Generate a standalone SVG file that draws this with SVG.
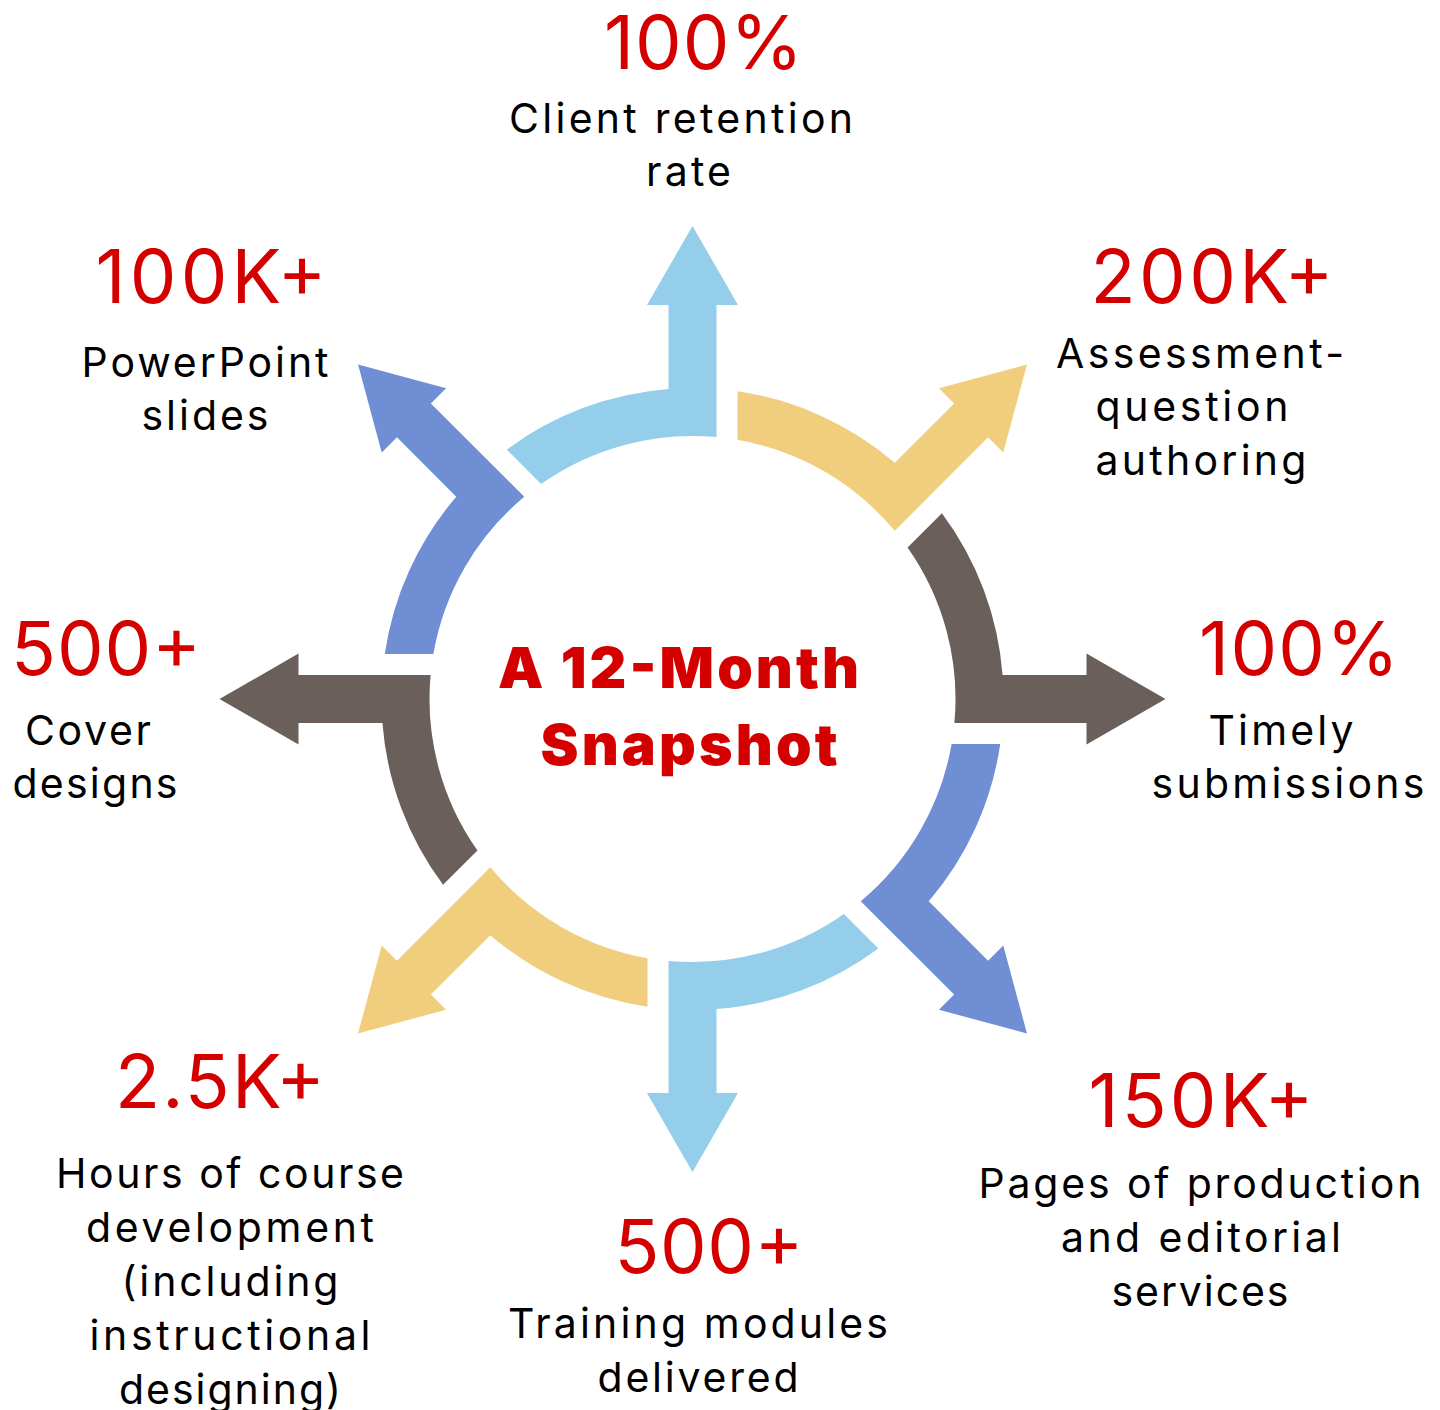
<svg xmlns="http://www.w3.org/2000/svg" xmlns:xlink="http://www.w3.org/1999/xlink" width="1440" height="1410" viewBox="0 0 1440 1410">
  <style>
    .num { font-family: "Inter", "Open Sans", sans-serif; font-size: 74px; font-weight: 400; fill: #D40000; text-anchor: middle; }
    .lbl { font-family: "Inter", "Open Sans", sans-serif; font-size: 41px; font-weight: 400; fill: #000000; text-anchor: middle; }
    .title { font-family: "Inter", "Open Sans", sans-serif; font-size: 57px; font-weight: 900; fill: #D40000; text-anchor: middle; }
    .lightblue { fill: #95CEEA; }
    .yellow { fill: #F1CE7D; }
    .brown { fill: #6A5F5A; }
    .blue { fill: #6F8ED3; }
  </style>
  <defs>
    <path id="piece" d="M -185.78 -249.42 A 311 311 0 0 1 -24 -310.07 L -24 -394 L -45.5 -394 L 0 -473 L 45.5 -394 L 24 -394 L 24 -261.9 A 263 263 0 0 0 -151.41 -215.05 Z"/>
  </defs>
  <rect x="0" y="0" width="1440" height="1410" fill="#FFFFFF"/>

  <g id="connectors"></g>

  <g id="node-client-retention">
    <use xlink:href="#piece" class="lightblue" transform="translate(692.5 699) rotate(0)"/>
    <text class="num" x="703.5" y="69" textLength="199" lengthAdjust="spacing">100%</text>
    <text class="lbl" x="681" y="133" textLength="344" lengthAdjust="spacing">Client retention</text>
    <text class="lbl" x="688.5" y="186" textLength="85" lengthAdjust="spacing">rate</text>
  </g>

  <g id="node-assessment">
    <use xlink:href="#piece" class="yellow" transform="translate(692.5 699) rotate(45)"/>
    <text class="num" x="1212" y="303" textLength="243" lengthAdjust="spacing">200K+</text>
    <text class="lbl" x="1200" y="368" textLength="288" lengthAdjust="spacing">Assessment-</text>
    <text class="lbl" x="1192" y="421" textLength="193" lengthAdjust="spacing">question</text>
    <text class="lbl" x="1201" y="475" textLength="211" lengthAdjust="spacing">authoring</text>
  </g>

  <g id="node-timely">
    <use xlink:href="#piece" class="brown" transform="translate(692.5 699) rotate(90)"/>
    <text class="num" x="1299" y="675" textLength="200" lengthAdjust="spacing">100%</text>
    <text class="lbl" x="1281" y="745" textLength="145" lengthAdjust="spacing">Timely</text>
    <text class="lbl" x="1288" y="798" textLength="273" lengthAdjust="spacing">submissions</text>
  </g>

  <g id="node-pages">
    <use xlink:href="#piece" class="blue" transform="translate(692.5 699) rotate(135)"/>
    <text class="num" x="1201" y="1127" textLength="225" lengthAdjust="spacing">150K+</text>
    <text class="lbl" x="1200" y="1198" textLength="443" lengthAdjust="spacing">Pages of production</text>
    <text class="lbl" x="1201" y="1252" textLength="280" lengthAdjust="spacing">and editorial</text>
    <text class="lbl" x="1200" y="1306" textLength="177" lengthAdjust="spacing">services</text>
  </g>

  <g id="node-training">
    <use xlink:href="#piece" class="lightblue" transform="translate(692.5 699) rotate(180)"/>
    <text class="num" x="709" y="1273" textLength="189" lengthAdjust="spacing">500+</text>
    <text class="lbl" x="698" y="1338" textLength="380" lengthAdjust="spacing">Training modules</text>
    <text class="lbl" x="698" y="1392" textLength="201" lengthAdjust="spacing">delivered</text>
  </g>

  <g id="node-hours">
    <use xlink:href="#piece" class="yellow" transform="translate(692.5 699) rotate(225)"/>
    <text class="num" x="220" y="1108" textLength="210" lengthAdjust="spacing">2.5K+</text>
    <text class="lbl" x="230" y="1188" textLength="348" lengthAdjust="spacing">Hours of course</text>
    <text class="lbl" x="230" y="1242" textLength="288" lengthAdjust="spacing">development</text>
    <text class="lbl" x="230" y="1296" textLength="217" lengthAdjust="spacing">(including</text>
    <text class="lbl" x="230" y="1350" textLength="281" lengthAdjust="spacing">instructional</text>
    <text class="lbl" x="230" y="1404" textLength="222" lengthAdjust="spacing">designing)</text>
  </g>

  <g id="node-cover">
    <use xlink:href="#piece" class="brown" transform="translate(692.5 699) rotate(270)"/>
    <text class="num" x="106" y="675" textLength="190" lengthAdjust="spacing">500+</text>
    <text class="lbl" x="88" y="745" textLength="126" lengthAdjust="spacing">Cover</text>
    <text class="lbl" x="95" y="798" textLength="165" lengthAdjust="spacing">designs</text>
  </g>

  <g id="node-powerpoint">
    <use xlink:href="#piece" class="blue" transform="translate(692.5 699) rotate(315)"/>
    <text class="num" x="211" y="303" textLength="231" lengthAdjust="spacing">100K+</text>
    <text class="lbl" x="205" y="377" textLength="247" lengthAdjust="spacing">PowerPoint</text>
    <text class="lbl" x="205" y="430" textLength="127" lengthAdjust="spacing">slides</text>
  </g>

  <g id="node-title">
    <text class="title" x="678.5" y="688" textLength="361" lengthAdjust="spacing">A 12-Month</text>
    <text class="title" x="689" y="765" textLength="297" lengthAdjust="spacing">Snapshot</text>
  </g>
</svg>
